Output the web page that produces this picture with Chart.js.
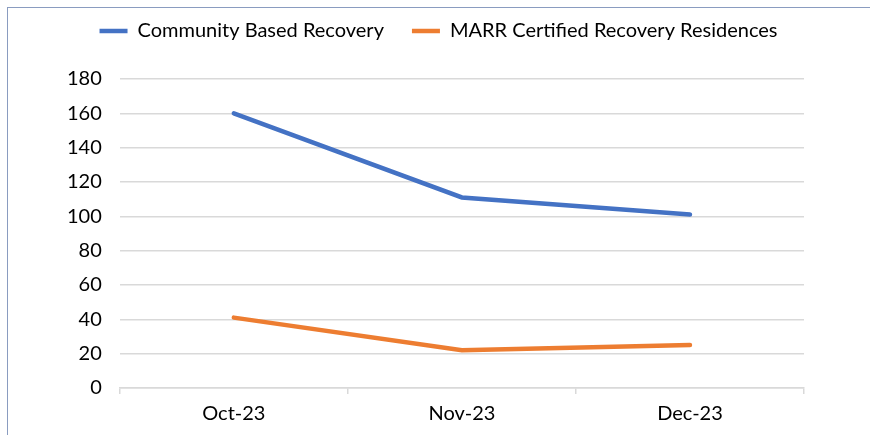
<!DOCTYPE html>
<html>
<head>
<meta charset="utf-8">
<script src="https://cdn.jsdelivr.net/npm/chart.js@4"></script>
<style>
	html, body { margin: 0; padding: 0; background: #fff; }
	.frame {
		position: absolute;
		left: 7px;
		top: 7px;
		width: 863px;
		height: 428px;
		border-left: 1px solid #8a9cc0;
		border-top: 1px solid #8a9cc0;
	}
	#chart { position: absolute; left: 0; top: 0; display: block; }
</style>
</head>
<body>
<div class="frame"></div>
<canvas id="chart" width="870" height="435"></canvas>
<script>
const months = ["Oct-23", "Nov-23", "Dec-23"];
const communityBased = [160, 111, 101];
const marrCertified = [41, 22, 25];
const yTicks = [0, 20, 40, 60, 80, 100, 120, 140, 160, 180];

const gridColor = "#d9d9d9";
const font = { family: "Lato", size: 20 };

// extra room under the legend, and legend centred on the whole frame
const legendSpacing = {
	id: "legendSpacing",
	beforeInit(chart) {
		const fit = chart.legend.fit;
		chart.legend.fit = function () {
			fit.bind(chart.legend)();
			this.height += 28;
		};
	},
	afterLayout(chart) {
		chart.legend.left += 12;
		chart.legend.right += 12;
	},
};

const data = {
	labels: months,
	datasets: [
		{
			label: "Community Based Recovery",
			data: communityBased,
			borderColor: "#4472c4",
			backgroundColor: "#4472c4",
			borderWidth: 4.5,
			pointRadius: 0,
			borderCapStyle: "round",
			tension: 0,
		},
		{
			label: "MARR Certified Recovery Residences",
			data: marrCertified,
			borderColor: "#ed7d31",
			backgroundColor: "#ed7d31",
			borderWidth: 4.5,
			pointRadius: 0,
			borderCapStyle: "round",
			tension: 0,
		},
	],
};

const config = {
	type: "line",
	data: data,
	plugins: [legendSpacing],
	options: {
		responsive: false,
		animation: false,
		layout: { padding: { left: 49, right: 66, top: -7, bottom: 1 } },
		plugins: {
			legend: {
				position: "top",
				labels: {
					usePointStyle: true,
					pointStyle: "line",
					pointStyleWidth: 28,
					padding: 28,
					color: "#000",
					font: font,
				},
			},
			tooltip: { enabled: false },
		},
		scales: {
			x: {
				offset: true,
				grid: {
					offset: true,
					drawOnChartArea: false,
					tickLength: 6,
					color: gridColor,
					lineWidth: 1.5,
				},
				border: { color: gridColor, width: 1.5 },
				ticks: { color: "#000", font: font, padding: 8 },
			},
			y: {
				min: 0,
				max: 180,
				afterBuildTicks: (axis) => {
					axis.ticks = yTicks.map((v) => ({ value: v }));
				},
				grid: { color: gridColor, lineWidth: 1.5, drawTicks: false },
				border: { display: false },
				ticks: { color: "#000", font: font, padding: 18 },
			},
		},
	},
};

new Chart(document.getElementById("chart"), config);
</script>
</body>
</html>
